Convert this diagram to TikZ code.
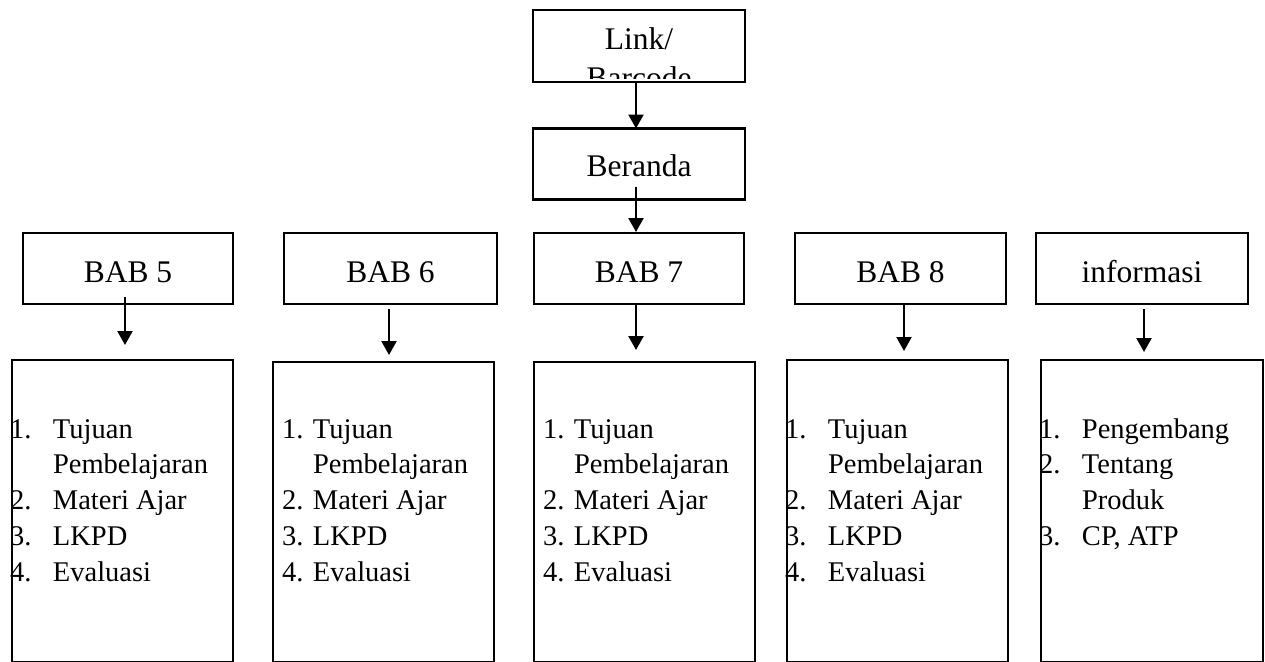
\documentclass[tikz,border=0pt]{standalone}
\usepackage{fontspec}
\setmainfont{Liberation Serif}
\usetikzlibrary{arrows.meta}
\newcommand{\numb}[3]{\makebox[#1][l]{#2}#3}
\newcommand{\lfont}{\fontsize{28.5}{35.8}\selectfont}
\begin{document}
\begin{tikzpicture}[x=1pt,y=-1pt,
  every node/.style={font=\fontsize{31.5}{36}\selectfont, inner sep=0pt, outer sep=0pt},
  boxst/.style={draw, line width=2.6pt, rectangle},
  babbox/.style={boxst, minimum height=71pt, text height=27pt, text depth=0pt},
  listbox/.style={boxst, minimum width=221pt, anchor=north west},
  lst/.style={anchor=base west, font=\lfont},
  arr/.style={line width=2.2pt, -{Triangle[width=15pt,length=14pt]}}]
\useasboundingbox (0,0) rectangle (1265,661);
% top
\node[boxst, minimum width=212pt, minimum height=72pt] (link) at (639,46) {};
\begin{scope}
\clip (535,12) rectangle (743,78.5);
\node[anchor=base] (linktxt) at (639,50) {\parbox[t]{200pt}{\centering\fontsize{31.5}{38}\selectfont Link/\\Barcode}};
\end{scope}
\node[babbox, minimum width=212pt, text height=24pt] (beranda) at (639,164) {Beranda};
% BAB boxes
\node[babbox, minimum width=210pt] (b5) at (128,268.5) {BAB 5};
\node[babbox, minimum width=213pt] (b6) at (390.5,268.5) {BAB 6};
\node[babbox, minimum width=210pt] (b7) at (639,268.5) {BAB 7};
\node[babbox, minimum width=211pt] (b8) at (900.5,268.5) {BAB 8};
\node[babbox, minimum width=212pt] (b9) at (1142,268.5) {informasi};
% list boxes
\node[listbox, minimum height=302pt] (c5) at (12,360) {};
\node[listbox, minimum height=300pt] (c6) at (273,362) {};
\node[listbox, minimum height=300pt] (c7) at (534,362) {};
\node[listbox, minimum height=302pt] (c8) at (787,360) {};
\node[listbox, minimum height=302pt, minimum width=222pt] (c9) at (1041,360) {};
% list texts
\node[lst] (t5) at (10,438) {\parbox[t]{220pt}{\lfont
\numb{43pt}{1.}{Tujuan}\\ \hspace*{43pt}Pembelajaran\\ \numb{43pt}{2.}{Materi Ajar}\\ \numb{43pt}{3.}{LKPD}\\ \numb{43pt}{4.}{Evaluasi}}};
\node[lst] (t6) at (282,438) {\parbox[t]{220pt}{\lfont
\numb{31pt}{1.}{Tujuan}\\ \hspace*{31pt}Pembelajaran\\ \numb{31pt}{2.}{Materi Ajar}\\ \numb{31pt}{3.}{LKPD}\\ \numb{31pt}{4.}{Evaluasi}}};
\node[lst] (t7) at (543,438) {\parbox[t]{220pt}{\lfont
\numb{31pt}{1.}{Tujuan}\\ \hspace*{31pt}Pembelajaran\\ \numb{31pt}{2.}{Materi Ajar}\\ \numb{31pt}{3.}{LKPD}\\ \numb{31pt}{4.}{Evaluasi}}};
\node[lst] (t8) at (785,438) {\parbox[t]{220pt}{\lfont
\numb{43pt}{1.}{Tujuan}\\ \hspace*{43pt}Pembelajaran\\ \numb{43pt}{2.}{Materi Ajar}\\ \numb{43pt}{3.}{LKPD}\\ \numb{43pt}{4.}{Evaluasi}}};
\node[lst] (t9) at (1039,438) {\parbox[t]{220pt}{\lfont
\numb{43pt}{1.}{Pengembang}\\ \numb{43pt}{2.}{Tentang}\\ \hspace*{43pt}Produk\\ \numb{43pt}{3.}{CP, ATP}}};
% arrow x positions
\coordinate (a0) at (636,0);
\coordinate (a5) at (125,0);
\coordinate (a6) at (389,0);
\coordinate (a7) at (636,0);
\coordinate (a8) at (904,0);
\coordinate (a9) at (1144,0);
% connectors
\draw[arr] (link.south -| a0) -- (beranda.north -| a0);
\draw[arr] ([yshift=13pt]beranda.south -| a0) -- ([yshift=1pt]b7.north -| a0);
\draw[arr] ([yshift=7pt]b5.south -| a5) -- ([yshift=15pt]c5.north -| a5);
\draw[arr] ([yshift=-5pt]b6.south -| a6) -- ([yshift=7pt]c6.north -| a6);
\draw[arr] (b7.south -| a7) -- ([yshift=12pt]c7.north -| a7);
\draw[arr] (b8.south -| a8) -- ([yshift=9pt]c8.north -| a8);
\draw[arr] ([yshift=-5pt]b9.south -| a9) -- ([yshift=8pt]c9.north -| a9);
\end{tikzpicture}
\end{document}
